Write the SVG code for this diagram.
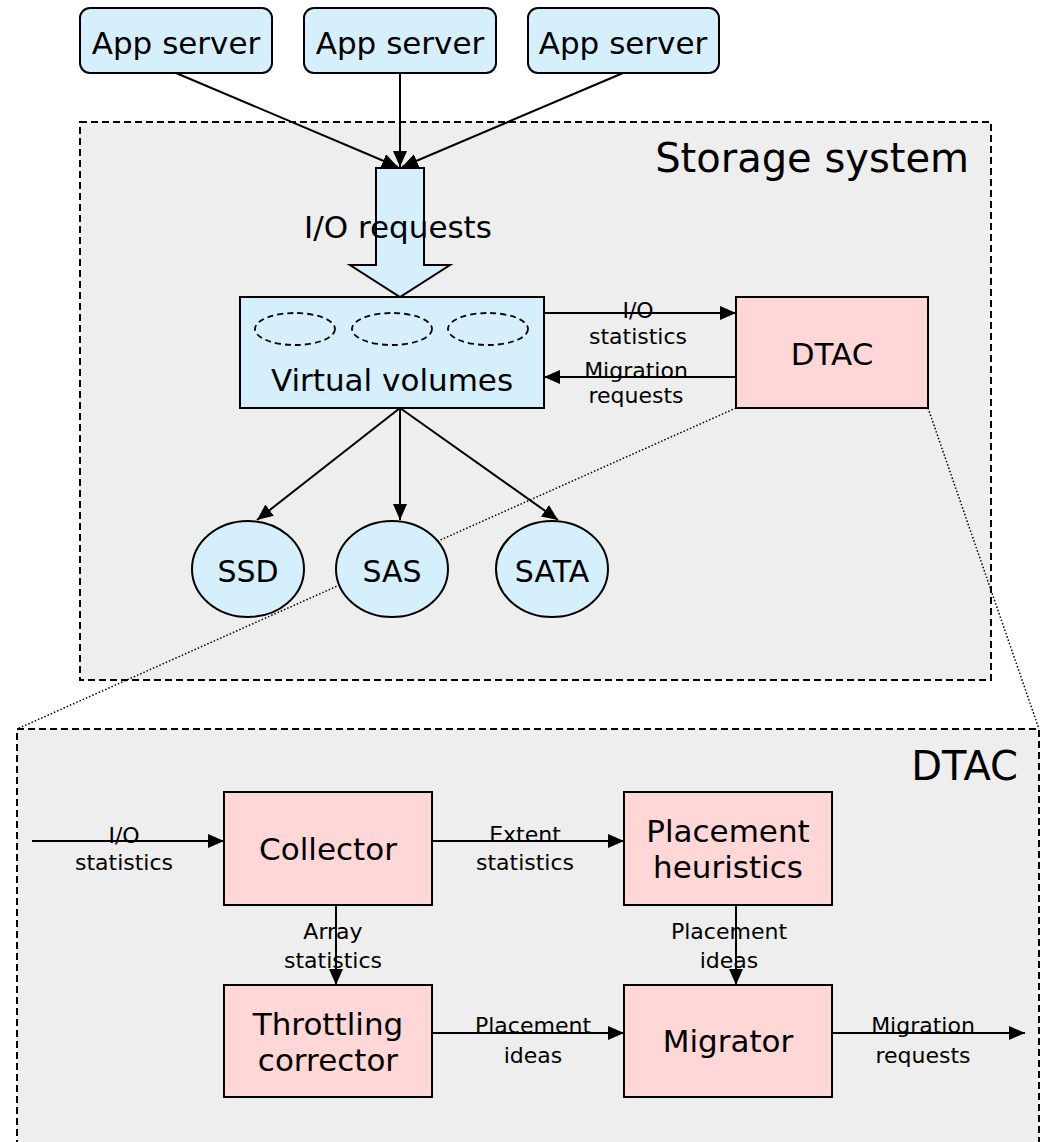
<svg xmlns="http://www.w3.org/2000/svg" width="1042" height="1142" viewBox="0 0 1042 1142">
<defs>
<marker id="ah" markerUnits="userSpaceOnUse" markerWidth="16" markerHeight="14" refX="16" refY="7" orient="auto">
<path d="M0,0 L16,7 L0,14 z" fill="#000"/>
</marker>
<style>
text{font-family:"DejaVu Sans","Liberation Sans",sans-serif;fill:#000;text-anchor:middle}
.big{font-size:31px}
.title{font-size:40px;text-anchor:end}
.small{font-size:22px}
.blue{fill:#d5effc;stroke:#000;stroke-width:2}
.pink{fill:#ffd7d7;stroke:#000;stroke-width:2}
.frame{fill:#eeeeee;stroke:#000;stroke-width:2;stroke-dasharray:7 4}
.conn{stroke:#000;stroke-width:2;fill:none}
.dot{stroke:#000;stroke-width:1.5;stroke-dasharray:1.5 2;fill:none}
.vdash{fill:none;stroke:#000;stroke-width:1.8;stroke-dasharray:6 4}
</style>
</defs>
<rect width="1042" height="1142" fill="#fff"/>

<g id="storage-system">
<rect class="frame" x="80" y="122" width="911" height="558"/>
<text class="title" x="969" y="172">Storage system</text>
</g>

<g id="dtac-detail">
<rect class="frame" x="17" y="729" width="1022" height="430"/>
<text class="title" x="1018" y="780">DTAC</text>
</g>

<g id="zoom-lines">
<line class="dot" x1="736" y1="408" x2="17" y2="729"/>
<line class="dot" x1="928" y1="408" x2="1039" y2="729"/>
</g>

<g id="app-server-1">
<rect class="blue" x="80" y="8" width="192" height="65" rx="10"/>
<text class="big" x="176" y="54">App server</text>
</g>
<g id="app-server-2">
<rect class="blue" x="304" y="8" width="192" height="65" rx="10"/>
<text class="big" x="400" y="54">App server</text>
</g>
<g id="app-server-3">
<rect class="blue" x="528" y="8" width="191" height="65" rx="10"/>
<text class="big" x="623" y="54">App server</text>
</g>

<g id="io-requests-arrow">
<polygon class="blue" points="376,168 424,168 424,265 450,265 400,297 350,265 376,265"/>
<text class="big" x="398" y="238">I/O requests</text>
</g>

<g id="virtual-volumes">
<rect class="blue" x="240" y="297" width="304" height="111"/>
<ellipse class="vdash" cx="295" cy="329" rx="40" ry="16"/>
<ellipse class="vdash" cx="392" cy="329" rx="40" ry="16"/>
<ellipse class="vdash" cx="488" cy="329" rx="40" ry="16"/>
<text class="big" x="392" y="391">Virtual volumes</text>
</g>

<g id="dtac">
<rect class="pink" x="736" y="297" width="192" height="111"/>
<text class="big" x="832" y="365">DTAC</text>
</g>

<g id="ssd">
<ellipse class="blue" cx="248" cy="569" rx="56" ry="48"/>
<text class="big" x="248" y="582" style="font-size:30px">SSD</text>
</g>
<g id="sas">
<ellipse class="blue" cx="392" cy="569" rx="56" ry="48"/>
<text class="big" x="392" y="582" style="font-size:30px">SAS</text>
</g>
<g id="sata">
<ellipse class="blue" cx="552" cy="569" rx="56" ry="48"/>
<text class="big" x="552" y="582" style="font-size:30px">SATA</text>
</g>

<g id="collector">
<rect class="pink" x="224" y="792" width="208" height="113"/>
<text class="big" x="328" y="860">Collector</text>
</g>
<g id="placement-heuristics">
<rect class="pink" x="624" y="792" width="208" height="113"/>
<text class="big" x="728" y="842">Placement</text>
<text class="big" x="728" y="878">heuristics</text>
</g>
<g id="throttling-corrector">
<rect class="pink" x="224" y="985" width="208" height="112"/>
<text class="big" x="328" y="1035">Throttling</text>
<text class="big" x="328" y="1071">corrector</text>
</g>
<g id="migrator">
<rect class="pink" x="624" y="985" width="208" height="112"/>
<text class="big" x="728" y="1052">Migrator</text>
</g>

<g id="connectors">
<line class="conn" x1="176" y1="73" x2="398" y2="167" marker-end="url(#ah)"/>
<line class="conn" x1="400" y1="73" x2="400" y2="167" marker-end="url(#ah)"/>
<line class="conn" x1="623" y1="73" x2="402" y2="167" marker-end="url(#ah)"/>

<line class="conn" x1="544" y1="313" x2="736" y2="313" marker-end="url(#ah)"/>
<text class="small" x="638" y="318">I/O</text>
<text class="small" x="638" y="344">statistics</text>
<line class="conn" x1="736" y1="377" x2="544" y2="377" marker-end="url(#ah)"/>
<text class="small" x="636" y="378">Migration</text>
<text class="small" x="636" y="403">requests</text>

<line class="conn" x1="400" y1="408" x2="257" y2="520" marker-end="url(#ah)"/>
<line class="conn" x1="400" y1="408" x2="400" y2="520" marker-end="url(#ah)"/>
<line class="conn" x1="400" y1="408" x2="558" y2="520" marker-end="url(#ah)"/>

<line class="conn" x1="32" y1="841" x2="224" y2="841" marker-end="url(#ah)"/>
<text class="small" x="124" y="843">I/O</text>
<text class="small" x="124" y="870">statistics</text>

<line class="conn" x1="432" y1="841" x2="624" y2="841" marker-end="url(#ah)"/>
<text class="small" x="525" y="842">Extent</text>
<text class="small" x="525" y="870">statistics</text>

<line class="conn" x1="336" y1="905" x2="336" y2="985" marker-end="url(#ah)"/>
<text class="small" x="333" y="939">Array</text>
<text class="small" x="333" y="968">statistics</text>

<line class="conn" x1="736" y1="905" x2="736" y2="985" marker-end="url(#ah)"/>
<text class="small" x="729" y="939">Placement</text>
<text class="small" x="729" y="968">ideas</text>

<line class="conn" x1="432" y1="1033" x2="624" y2="1033" marker-end="url(#ah)"/>
<text class="small" x="533" y="1033">Placement</text>
<text class="small" x="533" y="1063">ideas</text>

<line class="conn" x1="832" y1="1033" x2="1025" y2="1033" marker-end="url(#ah)"/>
<text class="small" x="923" y="1033">Migration</text>
<text class="small" x="923" y="1063">requests</text>
</g>
</svg>
